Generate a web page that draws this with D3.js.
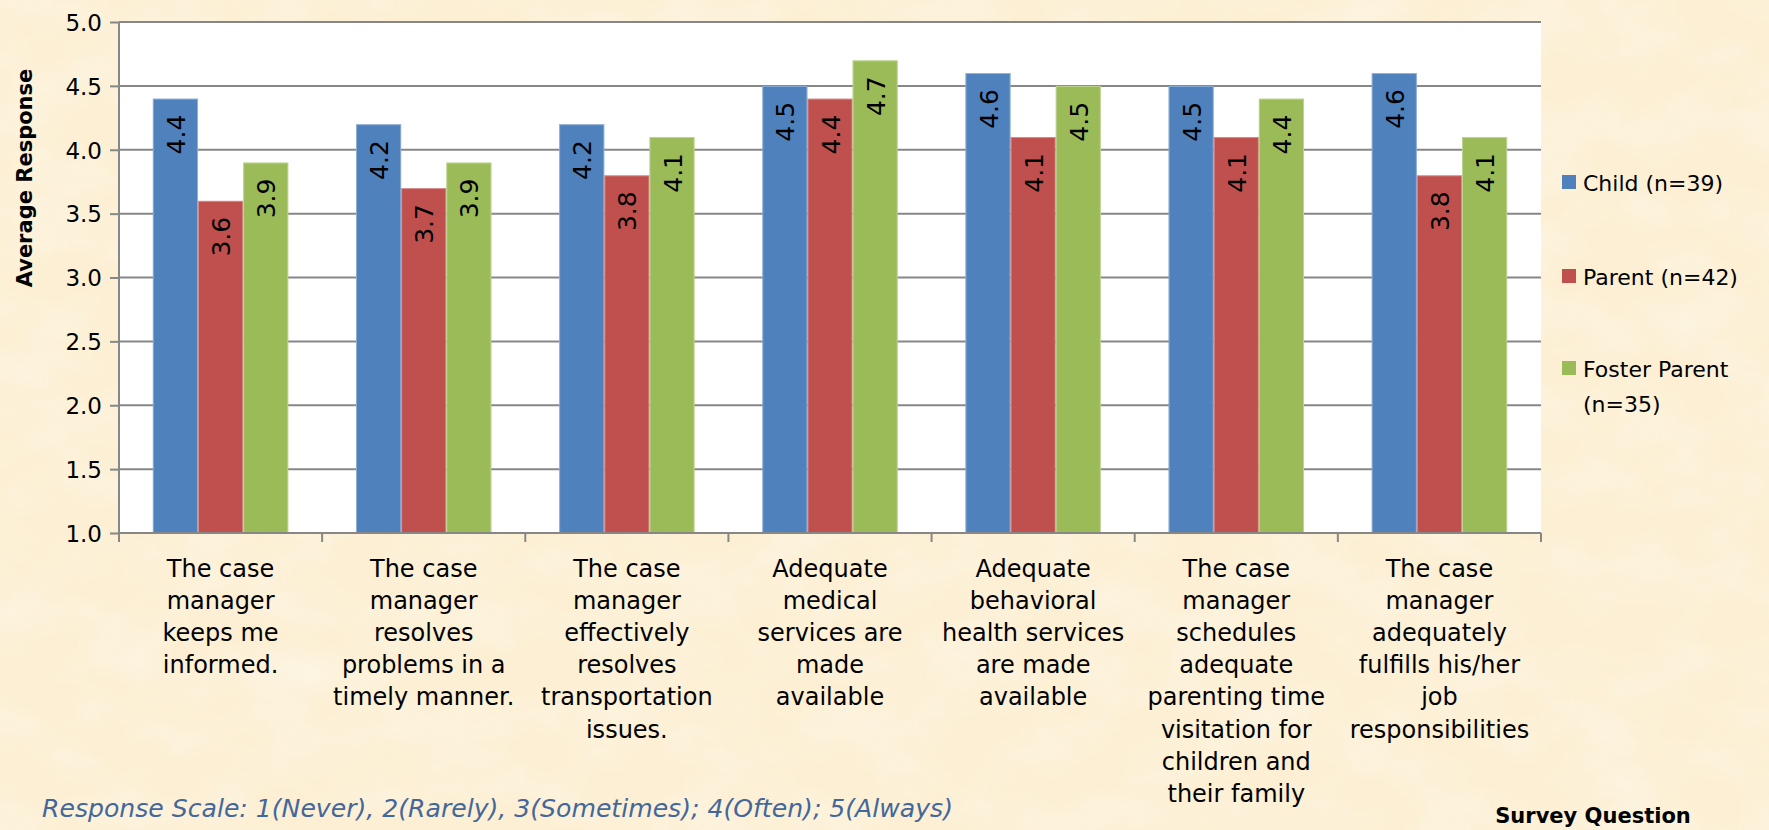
<!DOCTYPE html>
<html>
<head>
<meta charset="utf-8">
<script src="https://cdn.jsdelivr.net/npm/d3@7"></script>
<style>
  html, body { margin: 0; padding: 0; background: #fcefd3; }
  svg { display: block; }
</style>
</head>
<body>
<svg id="chart" width="1769" height="830"></svg>
<script>
// Survey questions (x-axis categories), one array of lines per question
const questions = [
  ["The case", "manager", "keeps me", "informed."],
  ["The case", "manager", "resolves", "problems in a", "timely manner."],
  ["The case", "manager", "effectively", "resolves", "transportation", "issues."],
  ["Adequate", "medical", "services are", "made", "available"],
  ["Adequate", "behavioral", "health services", "are made", "available"],
  ["The case", "manager", "schedules", "adequate", "parenting time", "visitation for", "children and", "their family"],
  ["The case", "manager", "adequately", "fulfills his/her", "job", "responsibilities"]
];

// Respondent groups
const seriesNames = ["Child (n=39)", "Parent (n=42)", "Foster Parent (n=35)"];
const legendLines = [["Child (n=39)"], ["Parent (n=42)"], ["Foster Parent", "(n=35)"]];

// Average response per question, per group
const childValues  = [4.4, 4.2, 4.2, 4.5, 4.6, 4.5, 4.6];
const parentValues = [3.6, 3.7, 3.8, 4.4, 4.1, 4.1, 3.8];
const fosterValues = [3.9, 3.9, 4.1, 4.7, 4.5, 4.4, 4.1];

// Y-axis ticks
const yTicks = [1.0, 1.5, 2.0, 2.5, 3.0, 3.5, 4.0, 4.5, 5.0];

const seriesColors = ["#4f81bd", "#c0504d", "#9bbb59"];
const font = "'DejaVu Sans', sans-serif";

const svg = d3.select("#chart");
const W = 1769, H = 830;

// Parchment-style backdrop
const defs = svg.append("defs");
const paper = defs.append("filter").attr("id", "paper")
  .attr("x", 0).attr("y", 0).attr("width", "100%").attr("height", "100%");
paper.append("feTurbulence").attr("type", "fractalNoise")
  .attr("baseFrequency", "0.012 0.02").attr("numOctaves", 3).attr("seed", 7).attr("result", "noise");
paper.append("feColorMatrix").attr("in", "noise").attr("type", "matrix")
  .attr("values", "0 0 0 0 0.99  0 0 0 0 0.95  0 0 0 0 0.85  1.4 0 0 0 -0.5");
svg.append("rect").attr("width", W).attr("height", H).attr("fill", "#fcefd3");
svg.append("rect").attr("width", W).attr("height", H).attr("filter", "url(#paper)").attr("opacity", 0.7);

const margin = { left: 119, top: 22, right: W - 1541, bottom: H - 533 };
const plotW = W - margin.left - margin.right;
const plotH = H - margin.top - margin.bottom;

const g = svg.append("g").attr("transform", `translate(${margin.left},${margin.top})`);

const x0 = d3.scaleBand().domain(d3.range(questions.length)).range([0, plotW]).paddingInner(0).paddingOuter(0);
// Gap between groups equals 1.5 bar widths (0.75 on each side)
const x1 = d3.scaleBand().domain(d3.range(seriesNames.length))
  .range([0, x0.bandwidth()]).paddingInner(0).paddingOuter(0.75);
const y = d3.scaleLinear().domain([1, 5]).range([plotH, 0]);

// Plot background
g.append("rect").attr("width", plotW).attr("height", plotH).attr("fill", "#ffffff");

// Horizontal gridlines
g.append("g").selectAll("line").data(yTicks.filter(t => t > 1)).join("line")
  .attr("x1", 0).attr("x2", plotW)
  .attr("y1", d => y(d)).attr("y2", d => y(d))
  .attr("stroke", "#878787").attr("stroke-width", 2);

// Bars
const seriesData = [childValues, parentValues, fosterValues];
const groups = g.append("g").selectAll("g").data(questions).join("g")
  .attr("transform", (d, i) => `translate(${x0(i)},0)`);

groups.each(function (q, qi) {
  const grp = d3.select(this);
  seriesData.forEach((vals, si) => {
    const v = vals[qi];
    grp.append("rect")
      .attr("x", x1(si)).attr("width", x1.bandwidth())
      .attr("y", y(v)).attr("height", y(1) - y(v))
      .attr("fill", seriesColors[si]);
    grp.append("rect")
      .attr("x", x1(si) + 0.5).attr("width", x1.bandwidth() - 1)
      .attr("y", y(v) + 0.5).attr("height", y(1) - y(v) - 0.5)
      .attr("fill", "none").attr("stroke", "#ffffff").attr("stroke-opacity", 0.35).attr("stroke-width", 1);
    // Value label, rotated and placed inside the top of the bar
    const cx = x1(si) + x1.bandwidth() / 2 + 1;
    const ty = y(v) + 16;
    grp.append("text")
      .attr("transform", `translate(${cx},${ty}) rotate(-90)`)
      .attr("text-anchor", "end")
      .attr("dominant-baseline", "central")
      .attr("font-family", font).attr("font-size", 25)
      .attr("fill", "#000")
      .text(d3.format(".1f")(v));
  });
});

// Y axis
const yAxis = d3.axisLeft(y).tickValues(yTicks).tickFormat(d3.format(".1f")).tickSize(9).tickPadding(8);
const ya = g.append("g").call(yAxis);
ya.select(".domain").attr("stroke", "#878787").attr("stroke-width", 2)
  .attr("d", `M0,0V${plotH + 9}`);
ya.selectAll(".tick line").attr("stroke", "#878787").attr("stroke-width", 2);
ya.selectAll(".tick text").attr("font-family", font).attr("font-size", 23).attr("fill", "#000")
  .attr("dy", "0.36em");

// X axis (category boundaries)
const xa = g.append("g").attr("transform", `translate(0,${plotH})`);
xa.append("line").attr("x1", 0).attr("x2", plotW).attr("stroke", "#878787").attr("stroke-width", 2);
xa.selectAll("line.tk").data(d3.range(1, questions.length + 1)).join("line").attr("class", "tk")
  .attr("x1", d => d * x0.bandwidth()).attr("x2", d => d * x0.bandwidth())
  .attr("y1", 0).attr("y2", 9).attr("stroke", "#878787").attr("stroke-width", 2);

// Category labels
const catLabels = svg.append("g");
questions.forEach((lines, i) => {
  const t = catLabels.append("text")
    .attr("font-family", font).attr("font-size", 24).attr("fill", "#000")
    .attr("text-anchor", "middle");
  lines.forEach((ln, li) => {
    t.append("tspan").attr("x", margin.left + x0(i) + x0.bandwidth() / 2)
      .attr("y", 577 + li * 32.1).text(ln);
  });
});

// Axis titles
svg.append("text")
  .attr("transform", "translate(25,178) rotate(-90)")
  .attr("text-anchor", "middle").attr("dominant-baseline", "central")
  .attr("font-family", font).attr("font-size", 21).attr("font-weight", "bold").attr("fill", "#000")
  .text("Average Response");

svg.append("text")
  .attr("x", 1593).attr("y", 823).attr("text-anchor", "middle")
  .attr("font-family", font).attr("font-size", 21).attr("font-weight", "bold").attr("fill", "#000")
  .text("Survey Question");

// Response scale note
svg.append("text")
  .attr("x", 42).attr("y", 817)
  .attr("font-family", font).attr("font-size", 24).attr("font-style", "italic").attr("fill", "#44679b")
  .attr("textLength", 911).attr("lengthAdjust", "spacingAndGlyphs")
  .text("Response Scale:  1(Never), 2(Rarely), 3(Sometimes); 4(Often); 5(Always)");

// Legend
const legendY = [182, 276, 368];
const legend = svg.append("g");
legendLines.forEach((lines, i) => {
  legend.append("rect").attr("x", 1562).attr("y", legendY[i] - 7).attr("width", 14).attr("height", 14)
    .attr("fill", seriesColors[i]);
  const t = legend.append("text").attr("font-family", font).attr("font-size", 22).attr("fill", "#000");
  lines.forEach((ln, li) => {
    t.append("tspan").attr("x", 1583).attr("y", legendY[i] + 9 + li * 35).text(ln);
  });
});
</script>
</body>
</html>
